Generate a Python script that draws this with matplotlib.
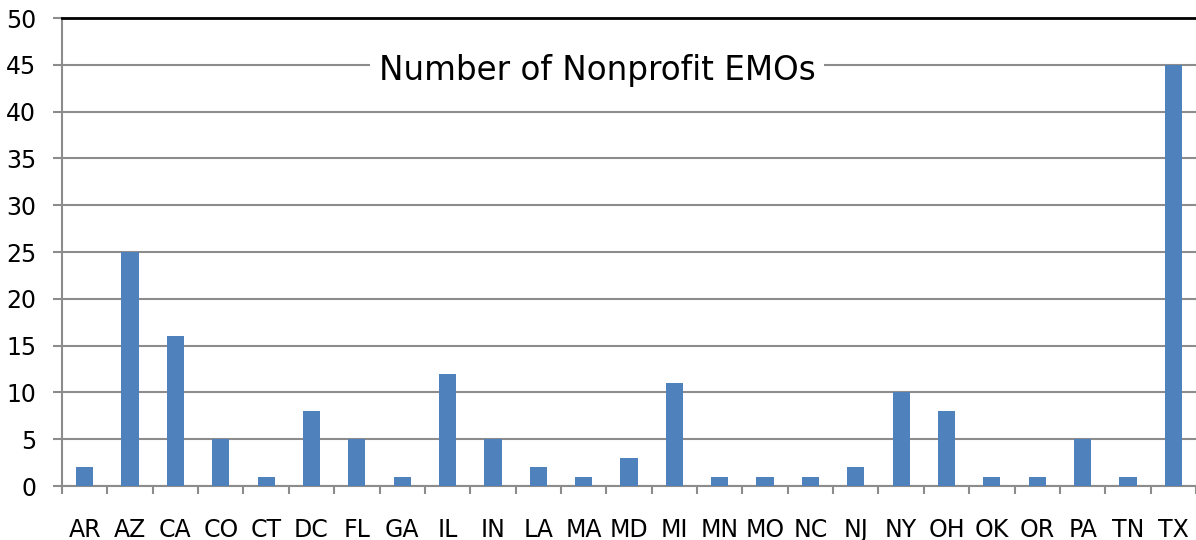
"""
Bar chart of nonprofit EMOs by state.
"""
import numpy as np
import matplotlib.pyplot as plt
from matplotlib.ticker import FixedLocator

# --------------------------- Data --------------------------- #
states = ["AR", "AZ", "CA", "CO", "CT", "DC", "FL", "GA", "IL", "IN", "LA",
          "MA", "MD", "MI", "MN", "MO", "NC", "NJ", "NY", "OH", "OK", "OR",
          "PA", "TN", "TX"]
counts = [2, 25, 16, 5, 1, 8, 5, 1, 12, 5, 2, 1, 3, 11, 1, 1, 1, 2, 10, 8,
          1, 1, 5, 1, 45]
y_ticks = [0, 5, 10, 15, 20, 25, 30, 35, 40, 45, 50]

GRID = "#8c8c8c"
BAR = "#4f81bd"


def make_plot():
    """Draw the chart."""
    fig = plt.figure(figsize=(11.96, 5.4), dpi=100)
    ax = fig.add_axes([62 / 1196, 0.1, 1 - 62 / 1196, 1 - 18 / 540 - 0.1])

    x = np.arange(len(states))
    ax.bar(x, counts, width=0.38, color=BAR, zorder=3)

    ax.set_xlim(-0.5, len(states) - 0.5)
    ax.set_ylim(0, 50)
    ax.set_yticks(y_ticks)
    ax.yaxis.grid(True, color=GRID, linewidth=1.5, zorder=0)

    ax.set_xticks(x)
    ax.set_xticklabels(states)
    ax.xaxis.set_minor_locator(FixedLocator(np.arange(-0.5, len(states), 1.0)))
    ax.tick_params(axis="x", which="major", length=0, pad=23, labelsize=17)
    ax.tick_params(axis="x", which="minor", length=6, width=1.5, color=GRID)
    ax.tick_params(axis="y", length=6.5, width=1.5, color=GRID, pad=12,
                   labelsize=17)

    ax.spines["right"].set_visible(False)
    ax.spines["left"].set_color(GRID)
    ax.spines["left"].set_linewidth(1.5)
    ax.spines["bottom"].set_color(GRID)
    ax.spines["bottom"].set_linewidth(1.5)
    ax.spines["top"].set_color("black")
    ax.spines["top"].set_linewidth(2)

    ax.text(0.472, 44.4, "Number of Nonprofit EMOs", transform=ax.get_yaxis_transform(),
            ha="center", va="center", fontsize=23.5, zorder=5,
            bbox=dict(facecolor="white", edgecolor="none", pad=6))
    return fig


if __name__ == "__main__":
    fig = make_plot()
    fig.savefig("out.png", dpi=100)
